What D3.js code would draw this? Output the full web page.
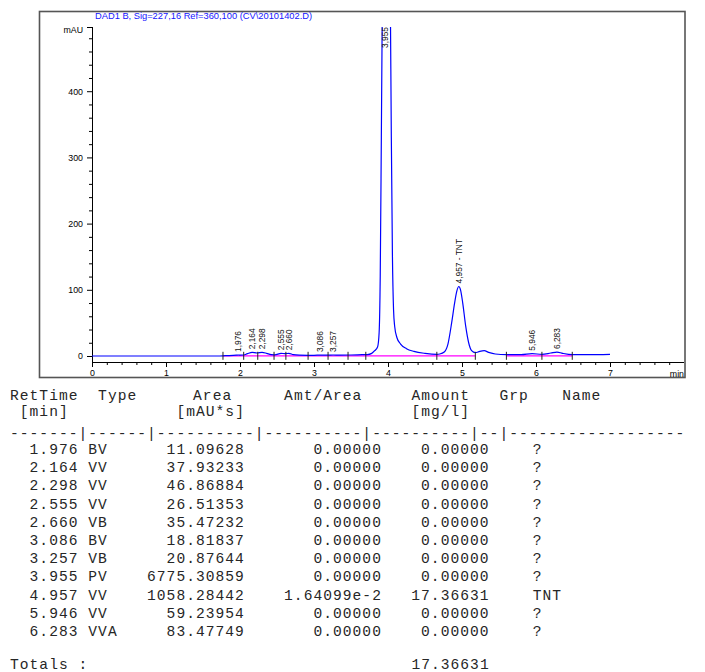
<!DOCTYPE html>
<html lang="en">
<head>
<meta charset="utf-8">
<title>DAD1 B chromatogram</title>
<script src="https://d3js.org/d3.v7.min.js"></script>
<style>
  body { margin: 0; background: #fff; }
  svg text { font-family: "Liberation Sans", Arial, sans-serif; }
  .tbl { font-family: "Liberation Mono", "Courier New", monospace; font-size: 14.6px; letter-spacing: 1.03px; fill: #262626; }
</style>
</head>
<body>
<svg id="chart" width="705" height="672"></svg>
<script>
// ---- signal trace (time in min, signal in mAU) ----
var sigTime  = [0, 1.70, 1.80, 1.95, 1.976, 2.00, 2.05, 2.10, 2.164, 2.23, 2.298, 2.36, 2.42, 2.47,
                2.555, 2.61, 2.66, 2.72, 2.80, 2.92, 3.00, 3.086, 3.15, 3.19, 3.257, 3.35, 3.50, 3.65,
                3.72, 3.78, 3.82, 3.86, 3.88, 3.895, 3.91, 3.925, 3.955, 3.99, 4.03, 4.045, 4.06,
                4.075, 4.09, 4.12, 4.17, 4.25, 4.35, 4.50, 4.66, 4.70, 4.76, 4.81, 4.86, 4.90, 4.93,
                4.957, 4.98, 5.01, 5.05, 5.09, 5.13, 5.18, 5.24, 5.30, 5.36, 5.45, 5.60, 5.80, 5.946,
                6.08, 6.20, 6.283, 6.36, 6.49, 6.70, 7.00];
var sigValue = [0, 0, 0.5, 1.2, 1.5, 1.3, 1.5, 3.5, 5.5, 4.5, 5.5, 4, 2, 1.8,
                4, 3.5, 4, 2, 1.2, 1, 1, 1.4, 1.2, 1.2, 1.5, 1.3, 1.5, 2,
                2.2, 4, 8, 14, 35, 120, 330, 560, 900, 800, 560, 330, 150,
                70, 45, 28, 18, 11, 7, 4, 2.5, 3, 6, 18, 50, 80, 98,
                105, 100, 80, 45, 20, 8, 5, 7, 8, 5.5, 3, 2, 2, 3.5,
                2.5, 4.5, 6, 4, 2, 2, 2.5];

// ---- integration events and baselines ----
var intTimes  = [1.77, 2.05, 2.24, 2.46, 2.62, 2.92, 3.19, 3.46, 3.70, 4.66, 5.18, 5.60, 6.08, 6.49];
var baseSegments = [[1.77, 3.70], [3.70, 4.66], [4.66, 5.18], [5.60, 6.49]];
var baseLevel = 0.3;

// ---- peak table ----
var retTimes  = [1.976, 2.164, 2.298, 2.555, 2.660, 3.086, 3.257, 3.955, 4.957, 5.946, 6.283];
var peakTypes = ["BV", "VV", "VV", "VV", "VB", "BV", "VB", "PV", "VV", "VV", "VVA"];
var areas     = [11.09628, 37.93233, 46.86884, 26.51353, 35.47232, 18.81837, 20.87644,
                 6775.30859, 1058.28442, 59.23954, 83.47749];
var amtArea   = [0, 0, 0, 0, 0, 0, 0, 0, 1.64099e-2, 0, 0];
var amounts   = [0, 0, 0, 0, 0, 0, 0, 0, 17.36631, 0, 0];
var groups    = ["?", "?", "?", "?", "?", "?", "?", "?", "TNT", "?", "?"];
var peakHeights = [1.5, 5.5, 5.5, 4, 4, 1.4, 1.5, 900, 105, 3.5, 6];
var totalAmount = 17.36631;

var xTicksMajor = [0, 1, 2, 3, 4, 5, 6, 7];
var yTicksMajor = [0, 100, 200, 300, 400];

var title = "DAD1 B, Sig=227,16 Ref=360,100 (CV\\20101402.D)";

// ---------------------------------------------------------------------
var svg = d3.select("#chart");

// outer frame
svg.append("rect")
    .attr("x", 39.5).attr("y", 11.5).attr("width", 645.5).attr("height", 366)
    .attr("fill", "none").attr("stroke", "#555").attr("stroke-width", 1.6);

svg.append("text")
    .attr("x", 95).attr("y", 18.5)
    .attr("font-size", 9.3).attr("fill", "#1414ff")
    .text(title);

var x = d3.scaleLinear().domain([0, 8]).range([92, 684]);
var y = d3.scaleLinear().domain([0, 497]).range([356, 27]);
var axisY = 362;

// x axis: minor every 0.2, major every minute
var xMinor = d3.range(0, 8.001, 0.2).filter(function (d) { return Math.abs(d - Math.round(d)) > 1e-6; });
svg.append("g").attr("transform", "translate(0," + axisY + ")")
    .call(d3.axisBottom(x).tickValues(xMinor).tickSize(3).tickFormat(""))
    .call(function (g) { g.select(".domain").remove(); });
var gx = svg.append("g").attr("transform", "translate(0," + axisY + ")")
    .call(d3.axisBottom(x).tickValues(xTicksMajor).tickSize(5).tickSizeOuter(0).tickPadding(3)
          .tickFormat(d3.format("d")));
gx.select(".domain").attr("d", "M" + x(0) + ",0.5H" + x.range()[1]);
gx.selectAll("text").attr("font-size", 8.8).attr("font-family", "Liberation Sans, Arial, sans-serif");
svg.append("text")
    .attr("x", 684).attr("y", 377).attr("text-anchor", "end")
    .attr("font-size", 8.8).text("min");

// y axis: minor every 20, labelled every 100, unit at the top tick
var yMinor = d3.range(20, 497, 20).filter(function (d) { return d % 100 !== 0; });
svg.append("g").attr("transform", "translate(" + x(0) + ",0)")
    .call(d3.axisLeft(y).tickValues(yMinor).tickSize(3).tickFormat(""))
    .call(function (g) { g.select(".domain").remove(); });
var gy = svg.append("g").attr("transform", "translate(" + x(0) + ",0)")
    .call(d3.axisLeft(y).tickValues(yTicksMajor.concat([y.domain()[1]])).tickSize(5).tickSizeOuter(0)
          .tickPadding(4)
          .tickFormat(function (d) { return d === y.domain()[1] ? "mAU" : d3.format("d")(d); }));
gy.select(".domain").attr("d", "M0.5," + y.range()[1] + "V" + axisY);
gy.selectAll("text").attr("font-size", 8.8).attr("font-family", "Liberation Sans, Arial, sans-serif");
gy.selectAll("text").filter(function (d) { return d === y.domain()[1]; }).attr("dy", "0.62em");

// clip for off-scale peak
svg.append("clipPath").attr("id", "plotClip")
  .append("rect").attr("x", x(0)).attr("y", y.range()[1])
  .attr("width", x.range()[1] - x(0)).attr("height", axisY - y.range()[1]);

// baselines (magenta)
var plot = svg.append("g").attr("clip-path", "url(#plotClip)");
plot.selectAll("line.base").data(baseSegments).enter().append("line")
    .attr("class", "base")
    .attr("x1", function (d) { return x(d[0]); }).attr("x2", function (d) { return x(d[1]); })
    .attr("y1", y(baseLevel)).attr("y2", y(baseLevel))
    .attr("stroke", "#ff00ff").attr("stroke-width", 1.2);

// signal trace
var sig = sigTime.map(function (t, i) { return [t, sigValue[i]]; });
plot.append("path").datum(sig)
    .attr("fill", "none").attr("stroke", "#0000ff").attr("stroke-width", 1.2)
    .attr("d", d3.line()
        .x(function (d) { return x(d[0]); })
        .y(function (d) { return y(d[1]); })
        .curve(d3.curveMonotoneX));

// integration event marks
plot.selectAll("line.evt").data(intTimes).enter().append("line")
    .attr("class", "evt")
    .attr("x1", function (d) { return x(d); }).attr("x2", function (d) { return x(d); })
    .attr("y1", y(baseLevel) - 4).attr("y2", y(baseLevel) + 4)
    .attr("stroke", "#222").attr("stroke-width", 1);

// peak labels, rotated
svg.selectAll("text.peak").data(retTimes).enter().append("text")
    .attr("class", "peak")
    .attr("font-size", 8.4).attr("fill", "#111")
    .attr("transform", function (d, i) {
        var top = Math.max(y(peakHeights[i]), y.range()[1] + 24);
        return "translate(" + (x(d) + 3) + "," + (top - 3) + ") rotate(-90)";
    })
    .text(function (d, i) {
        var s = d3.format(".3f")(d).replace(".", ",");
        return groups[i] !== "?" ? s + " -  " + groups[i] : s;
    });

// ---- report table ----
var charW = 9.79, col0 = 10;
function colX(c) { return col0 + c * charW; }
function put(c, yy, s) {
    svg.append("text").attr("class", "tbl").attr("x", colX(c)).attr("y", yy)
       .attr("xml:space", "preserve").text(s);
}
put(0, 400, "RetTime");
put(9, 400, "Type");
put(18.7, 400, "Area");
put(28, 400, "Amt/Area");
put(41, 400, "Amount");
put(50, 400, "Grp");
put(56.4, 400, "Name");
put(1, 416, "[min]");
put(17, 416, "[mAU*s]");
put(41, 416, "[mg/l]");
put(0, 437.5, "-------|------|----------|----------|----------|--|------------------");

var f5 = d3.format(".5f"), f3 = d3.format(".3f");
retTimes.forEach(function (t, i) {
    var yy = 454 + i * 18.2;
    var amt = amtArea[i] === 0 ? f5(0) : amtArea[i].toExponential(5);
    var row = f3(t).padStart(7) + " " + peakTypes[i].padEnd(3) +
              f5(areas[i]).padStart(13) + amt.padStart(14) + f5(amounts[i]).padStart(11);
    put(0, yy, row);
    put(53.4, yy, groups[i]);
});
put(0, 669, "Totals :");
put(41, 669, f5(totalAmount));
</script>
</body>
</html>
